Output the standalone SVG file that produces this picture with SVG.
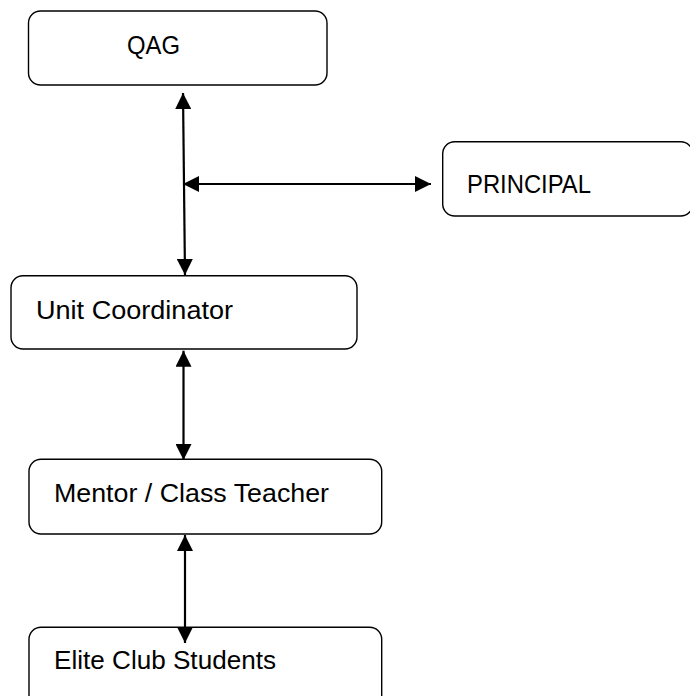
<svg xmlns="http://www.w3.org/2000/svg" width="690" height="696" viewBox="0 0 690 696">
  <style>
    .box { fill: #ffffff; stroke: #000000; stroke-width: 1.4; }
    .lbl { font-family: "Liberation Sans", Arial, sans-serif; font-size: 25px; fill: #000000; }
    .conn { stroke: #000000; stroke-width: 2.2; fill: none; marker-start: url(#ah); marker-end: url(#ah); }
  </style>
  <defs>
    <marker id="ah" markerUnits="userSpaceOnUse" markerWidth="16" markerHeight="16" viewBox="0 0 16 16" refX="16" refY="8" orient="auto-start-reverse">
      <path d="M0,0 L16,8 L0,16 z" fill="#000000"/>
    </marker>
  </defs>
  <rect width="690" height="696" fill="#ffffff"/>
  <g id="qag">
    <rect class="box" x="28.5" y="11" width="298.5" height="74" rx="12"/>
    <text class="lbl" x="127" y="54" textLength="53" lengthAdjust="spacingAndGlyphs">QAG</text>
  </g>
  <g id="principal">
    <rect class="box" x="442.7" y="141.7" width="250" height="74.3" rx="12"/>
    <text class="lbl" x="467" y="193" textLength="124" lengthAdjust="spacingAndGlyphs">PRINCIPAL</text>
  </g>
  <g id="unit-coordinator">
    <rect class="box" x="11" y="275.7" width="346" height="73.3" rx="12"/>
    <text class="lbl" x="36" y="319" textLength="197" lengthAdjust="spacingAndGlyphs">Unit Coordinator</text>
  </g>
  <g id="mentor">
    <rect class="box" x="29" y="459.3" width="352.7" height="74.7" rx="12"/>
    <text class="lbl" x="54" y="502" textLength="275" lengthAdjust="spacingAndGlyphs">Mentor / Class Teacher</text>
  </g>
  <g id="elite">
    <rect class="box" x="29" y="627.3" width="352.7" height="80" rx="12"/>
    <text class="lbl" x="54" y="669" textLength="222" lengthAdjust="spacingAndGlyphs">Elite Club Students</text>
  </g>
  <g id="connectors">
    <line class="conn" x1="183" y1="93" x2="185" y2="275"/>
    <line class="conn" x1="183" y1="184" x2="431" y2="184"/>
    <line class="conn" x1="183.5" y1="350.7" x2="183.5" y2="460"/>
    <line class="conn" x1="185" y1="535" x2="185" y2="643"/>
  </g>
</svg>
